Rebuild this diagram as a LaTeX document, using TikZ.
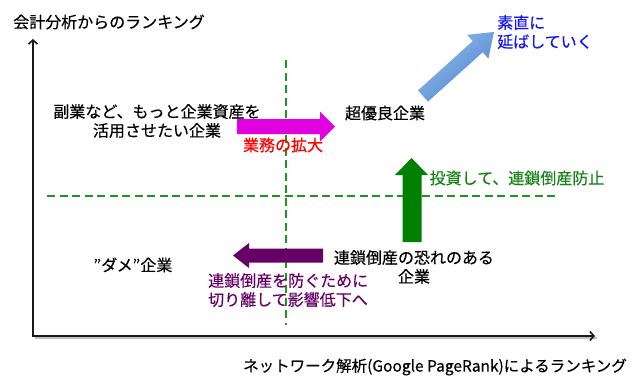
\documentclass[tikz,border=0pt]{standalone}
\usepackage{fontspec}
\setmainfont{Noto Sans CJK JP}[FakeBold=0.35]
\usetikzlibrary{arrows.meta}
\definecolor{dashgreen}{RGB}{30,150,30}
\definecolor{arrgreen}{RGB}{0,128,0}
\definecolor{txtgreen}{RGB}{20,130,20}
\definecolor{mag}{RGB}{224,0,224}
\definecolor{purp}{RGB}{102,0,102}
\definecolor{bluelight}{RGB}{150,188,232}
\definecolor{bluedark}{RGB}{75,132,208}
\definecolor{txtblue}{RGB}{20,20,240}
\begin{document}
\begin{tikzpicture}[x=1pt,y=-1pt,
  txt/.style={inner sep=0pt, font=\fontsize{16}{19}\selectfont, align=center},
  axisline/.style={line width=2pt, black!90, line join=miter, {Straight Barb[length=4pt,width=9pt,line width=1.6pt]}-{Straight Barb[length=4pt,width=9pt,line width=1.6pt]}},
  gdash/.style={dashgreen, line width=2pt, dash pattern=on 8pt off 4.5pt}]
\useasboundingbox (0,0) rectangle (633,378);

% axes
\coordinate (ytop) at (33,39);
\coordinate (orig) at (33,336);
\coordinate (xend) at (595,336);
\draw[black!25, line width=2pt] ([shift={(1.5,1.5)}]orig) -- ([shift={(1.5,1.5)}]xend);
\draw[axisline] (ytop) -- (orig) -- (xend);

% dashed quadrant lines
\coordinate (vtop) at (286,60);
\coordinate (vbot) at (286,325);
\coordinate (hl) at (47,196);
\coordinate (hr) at (557,196);
\draw[gdash] (vtop) -- (vbot);
\draw[gdash] (hl) -- (hr);

% axis labels
\node[txt] (ylab) at (109,22) {会計分析からのランキング};
\node[txt, font=\fontsize{15.5}{19}\selectfont] (xlab) at (435,367) {ネットワーク解析(Google PageRank)によるランキング};

% magenta arrow
\fill[mag] (237,119) -- (320,119) -- (320,111.5) -- (335,126.5) -- (320,141.5) -- (320,134) -- (237,134) -- cycle;
% green arrow
\fill[arrgreen] (402.5,242) -- (402.5,175) -- (395,175) -- (411.5,158) -- (428,175) -- (421.5,175) -- (421.5,242) -- cycle;
% purple arrow
\fill[purp] (323,248.5) -- (249,248.5) -- (249,243) -- (233,255.5) -- (249,268) -- (249,262.5) -- (323,262.5) -- cycle;
% blue arrow
\shade[top color=bluelight, bottom color=bluedark, shading angle=42]
  (418.0,90.4) -- (472.7,41.1) -- (467.0,34.8) -- (494,32) -- (488.4,58.6) -- (482.7,52.3) -- (428.0,101.6) -- cycle;

% texts
\node[txt] (side) at (157,121) {副業など、もっと企業資産を\\活用させたい企業};
\node[txt] (super) at (385,113) {超優良企業};
\node[txt, text=red] (expand) at (283,145) {業務の拡大};
\node[txt, text=txtblue, anchor=north west, align=left] (grow) at (497,15) {素直に\\延ばしていく};
\node[txt, text=txtgreen] (invest) at (517,178) {投資して、連鎖倒産防止};
\node[txt] (risk) at (414,267) {連鎖倒産の恐れのある\\企業};
\node[txt] (bad) at (133,265) {”ダメ”企業};
\node[txt, text=purp, anchor=north west, align=left] (cut) at (208,273) {連鎖倒産を防ぐために\\切り離して影響低下へ};
\end{tikzpicture}
\end{document}
